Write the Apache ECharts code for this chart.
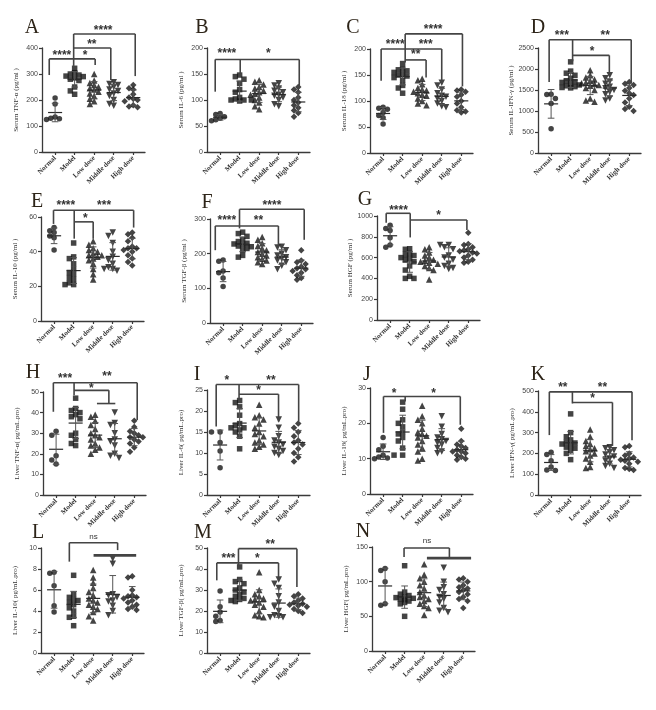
<!DOCTYPE html>
<html><head><meta charset="utf-8">
<script src="https://cdn.jsdelivr.net/npm/echarts@6/dist/echarts.min.js"></script>
<style>html,body{margin:0;padding:0;background:#fff}#c{width:656px;height:710px}</style>
</head><body><div id="c"></div>
<script>
// ---------------- data ----------------
const groups = ['Normal', 'Model', 'Low dose', 'Middle dose', 'High dose'];
const panelLetters = ['A','B','C','D','E','F','G','H','I','J','K','L','M','N'];
const yAxisNames = [
  'Serum TNF-α (pg/ml )', 'Serum IL-6 (pg/ml )', 'Serum IL-18 (pg/ml )', 'Serum IL-IFN-γ (pg/ml )',
  'Serum IL-10 (pg/ml )', 'Serum TGF-β (pg/ml )', 'Serum HGF (pg/ml )',
  'Liver TNF-α( pg/mL.pro)', 'Liver IL-6( pg/mL.pro)', 'Liver IL-18( pg/mL.pro)', 'Liver IFN-γ( pg/mL.pro)',
  'Liver IL-10( pg/mL.pro)', 'Liver TGF-β( pg/mL.pro)', 'Liver HGF( pg/mL.pro)'
];
const yMax  = [400, 200, 200, 2500, 60, 300, 1000, 50, 25, 30, 500, 10, 50, 150];
const yStep = [100, 50, 50, 500, 20, 100, 200, 10, 5, 10, 100, 2, 10, 50];

const serumTNFa = [
  [208, 185, 135, 130, 128, 125],
  [322, 305, 300, 296, 292, 290, 285, 280, 275, 250, 235, 222],
  [300, 275, 265, 258, 250, 245, 240, 232, 225, 215, 205, 195, 185],
  [268, 262, 258, 250, 240, 235, 225, 215, 200, 185, 178],
  [258, 245, 240, 222, 210, 205, 200, 195, 180, 175, 172]
];
const serumIL6 = [
  [74, 72, 68, 65, 62, 60],
  [148, 145, 140, 132, 120, 115, 105, 102, 100, 100, 100, 98],
  [138, 135, 130, 125, 122, 118, 115, 112, 110, 105, 100, 95, 88, 82],
  [132, 128, 122, 118, 115, 110, 108, 105, 100, 92, 88],
  [125, 120, 115, 105, 100, 95, 90, 85, 80, 75, 68]
];
const serumIL18 = [
  [88, 86, 84, 78, 72, 68, 56],
  [172, 162, 160, 158, 155, 152, 150, 148, 145, 140, 130, 125, 115],
  [143, 140, 132, 125, 122, 120, 118, 115, 112, 110, 105, 100, 95, 92],
  [135, 130, 122, 115, 110, 108, 105, 100, 95, 90, 88],
  [122, 120, 118, 112, 108, 100, 95, 88, 82, 80, 78]
];
const serumIFNg = [
  [1400, 1390, 1300, 1180, 580],
  [2170, 1950, 1900, 1850, 1780, 1720, 1700, 1680, 1650, 1620, 1600, 1580, 1560, 1550],
  [1970, 1850, 1800, 1750, 1720, 1680, 1660, 1640, 1620, 1600, 1550, 1500, 1300, 1250, 1220],
  [1850, 1780, 1700, 1650, 1580, 1540, 1500, 1450, 1400, 1300, 1250],
  [1690, 1650, 1620, 1550, 1480, 1420, 1380, 1300, 1200, 1100, 1050, 1000]
];
const serumIL10 = [
  [54, 52, 51, 49, 48, 41],
  [45, 37, 36, 33, 30, 28, 27, 25, 24, 22, 21, 21],
  [46, 44, 42, 41, 40, 39, 38, 38, 37, 36, 35, 33, 30, 27, 24],
  [51, 49, 45, 40, 37, 35, 33, 31, 30, 30, 29],
  [51, 50, 48, 46, 43, 42, 42, 41, 40, 38, 36, 34, 32]
];
const serumTGFb = [
  [182, 178, 150, 145, 130, 105],
  [262, 258, 250, 240, 235, 230, 228, 225, 222, 220, 215, 210, 195, 190],
  [248, 240, 230, 222, 215, 210, 205, 200, 195, 190, 185, 180, 175, 170],
  [220, 218, 210, 200, 195, 190, 185, 180, 175, 165, 155],
  [210, 180, 175, 170, 162, 158, 155, 150, 145, 138, 130, 125]
];
const serumHGF = [
  [910, 880, 860, 790, 720, 700],
  [685, 680, 640, 630, 620, 600, 590, 580, 560, 520, 480, 420, 400, 400],
  [700, 680, 650, 620, 600, 580, 570, 560, 550, 540, 520, 500, 480, 390],
  [720, 720, 700, 680, 620, 600, 580, 540, 520, 500, 490],
  [840, 730, 720, 700, 680, 670, 660, 650, 640, 620, 600, 580, 560, 550]
];
const liverTNFa = [
  [31, 29, 19, 17, 15],
  [47, 42, 41, 40, 39, 38, 37, 30, 29, 27, 25, 24],
  [39, 38, 36, 34, 32, 30, 29, 28, 27, 25, 24, 23, 22, 20],
  [40, 35, 34, 30, 27, 26, 24, 20, 19, 18],
  [36, 33, 31, 30, 29, 28, 28, 27, 26, 25, 23, 21]
];
const liverIL6 = [
  [15, 15, 12.5, 10.5, 6.5],
  [22.5, 22, 21, 19, 17, 16.5, 16, 16, 15.5, 15, 14, 11],
  [21.5, 19, 18.5, 18, 17, 16, 15, 14.5, 14, 13, 12.5, 12, 11.5, 11],
  [18, 16, 14, 13, 12.5, 12, 11.5, 11, 10.5, 10, 9.5],
  [17, 16, 15, 14, 13, 12.5, 12, 11, 10, 9, 8]
];
const liverIL18 = [
  [16, 13.5, 12.5, 11, 10.5, 10.2, 10],
  [26, 24, 21, 20, 19, 17.5, 17, 16, 15, 13, 11, 11],
  [25, 22, 21, 20, 18.5, 17.5, 17, 16.5, 16, 15, 14, 13, 12, 10, 9.5],
  [22, 19, 17, 16, 15.5, 15, 14.5, 14, 13, 12, 11.5],
  [18.5, 15, 14, 13.5, 13, 12.5, 12, 12, 11.5, 11, 10.5, 10, 9.7]
];
const liverIFNg = [
  [205, 195, 165, 135, 120, 118],
  [390, 300, 280, 265, 255, 250, 245, 240, 230, 225, 215, 200, 170],
  [315, 280, 260, 245, 235, 225, 220, 210, 200, 190, 175, 160, 135, 130],
  [230, 225, 215, 205, 195, 185, 175, 165, 150, 140, 130],
  [235, 230, 200, 190, 180, 175, 170, 165, 160, 150, 130, 125, 120]
];
const liverIL10 = [
  [7.7, 7.6, 6.4, 4.5, 3.9],
  [7.4, 5.6, 5.3, 5.1, 5.0, 4.8, 4.6, 4.3, 4.0, 3.5, 3.4, 2.6],
  [7.9, 7.2, 6.7, 6.2, 5.8, 5.5, 5.2, 5.0, 4.8, 4.6, 4.4, 4.2, 3.9, 3.5, 3.1],
  [9.0, 8.5, 5.6, 5.5, 5.3, 5.0, 4.9, 4.5, 4.0, 3.6],
  [7.3, 7.2, 6.0, 5.5, 5.4, 5.3, 5.2, 5.0, 4.8, 4.6, 4.4, 4.2, 4.1]
];
const liverTGFb = [
  [29.5, 22, 19.5, 17.5, 15.5, 15],
  [41, 35, 34, 33, 31, 30, 29, 28, 27, 26, 25.5, 25, 24.5],
  [38.5, 30, 28, 27, 26, 25.5, 25, 24, 23, 22, 20, 18, 17.5, 17],
  [35, 33, 31, 27, 24, 22, 20, 18, 17.5, 17, 17],
  [28, 27, 26, 25, 24, 23.5, 23, 22.5, 22, 21, 20, 19]
];
const liverHGF = [
  [119, 116, 100, 68, 66],
  [123, 85, 82, 80, 78, 77, 76, 75, 74, 72, 70, 68, 50],
  [125, 110, 105, 100, 95, 90, 85, 80, 78, 75, 72, 68, 65, 62, 52],
  [120, 100, 92, 88, 82, 78, 75, 70, 62, 58, 56],
  [105, 103, 100, 95, 92, 90, 88, 85, 82, 78, 75, 72, 62]
];
const panelData = [serumTNFa, serumIL6, serumIL18, serumIFNg, serumIL10, serumTGFb, serumHGF,
  liverTNFa, liverIL6, liverIL18, liverIFNg, liverIL10, liverTGFb, liverHGF];

// significance annotations, in data units: segments [x1,y1,x2,y2,(width)], labels [text,x,y]
const bracketSegs = [
  [[-0.3,296,-0.3,358],[-0.3,358,2.05,358],[2.05,358,2.05,335],[0.95,331,0.95,454],[0.95,400,2.85,400],[2.85,400,2.85,277],[0.95,454,4.1,454],[4.1,454,4.1,292]],
  [[-0.25,116,-0.25,178],[-0.25,178,4.05,178],[4.05,178,4.05,127],[1.03,178,1.03,150]],
  [[-0.1,139,-0.1,200],[-0.1,200,3.0,200],[3.0,200,3.0,139],[1.13,179,2.2,179],[2.2,179,2.2,145],[1.13,174,1.13,229],[1.13,229,4.06,229],[4.06,229,4.06,128]],
  [[-0.1,1690,-0.1,2698],[-0.1,2698,4.1,2698],[4.1,2698,4.1,1650],[1.1,2183,1.1,2698],[1.1,2325,2.98,2325],[2.98,2325,2.98,1873]],
  [[-0.03,56,-0.03,63.9],[-0.03,63.9,4.07,63.9],[4.07,63.9,4.07,53.9],[1.03,47.5,1.03,63.9],[1.03,57.2,2.0,57.2],[2.0,57.2,2.0,47.5]],
  [[-0.4,210,-0.4,280],[-0.4,280,2.83,280],[2.83,280,2.83,220],[0.84,273,0.84,328],[0.84,328,4.15,328],[4.15,328,4.15,240]],
  [[-0.2,936,-0.2,1026],[-0.2,1026,1.03,1026],[1.03,1026,1.03,794],[1.03,961,3.93,961],[3.93,961,3.93,865]],
  [[-0.14,40.4,-0.14,54.5],[-0.14,54.5,4.15,54.5],[4.15,54.5,4.15,36.4],[0.92,48.4,0.92,54.5],[0.92,50.8,2.7,50.8],[2.7,50.8,2.7,44.4],[2.09,44.4,3.03,44.4]],
  [[-0.2,16.3,-0.2,26.3],[-0.2,26.3,4.02,26.3],[4.02,26.3,4.02,17.6],[0.97,22.6,0.97,26.3],[0.97,24,2.99,24],[2.99,24,2.99,17.5]],
  [[0.02,17.3,0.02,27.6],[0.02,27.6,3.95,27.6],[3.95,27.6,3.95,19.6],[1.13,26.2,1.13,27.6]],
  [[-0.09,288,-0.09,496],[-0.09,496,4.14,496],[4.14,496,4.14,263],[1.09,440,1.09,496],[1.09,445,3.14,445],[3.14,445,3.14,236]],
  [[0.78,8.7,0.78,10.5],[0.78,10.5,3.25,10.5],[3.25,10.5,3.25,9.8],[2.02,9.3,4.2,9.3,2.6]],
  [[-0.17,34.6,-0.17,42.9],[-0.17,42.9,2.99,42.9],[2.99,42.9,2.99,36.2],[0.94,41.5,0.94,49.7],[0.94,49.7,3.93,49.7],[3.93,49.7,3.93,31.4]],
  [[0.97,135.6,0.97,148.6],[0.97,148.6,3.29,148.6],[3.29,148.6,3.29,134],[2.14,134,4.4,134,2.6]]
];
const bracketLabels = [
  [['****',0.35,381],['*',1.54,381],['**',1.88,424],['****',2.46,476]],
  [['****',0.35,193],['*',2.47,193]],
  [['****',0.62,214],['***',2.18,214],['**',1.67,193],['****',2.56,242]],
  [['***',0.55,2850],['**',2.77,2850],['*',2.1,2469]],
  [['****',0.6,67.7],['***',2.56,67.7],['*',1.6,60.4]],
  [['****',0.19,302],['**',1.81,302],['****',2.5,346]],
  [['****',0.43,1074],['*',2.48,1030]],
  [['***',0.46,57.7],['**',2.6,58.8],['*',1.8,52.8]],
  [['*',0.34,27.9],['**',2.6,27.9],['*',1.97,25.4]],
  [['*',0.56,29.1],['*',2.58,29.1]],
  [['**',0.6,528],['**',2.63,528],['*',2.12,477]],
  [['ns',2.02,11.06]],
  [['***',0.43,46],['*',1.91,46],['**',2.56,52.9]],
  [['ns',2.14,159.6]]
];

// ---------------- layout ----------------
const PW = 103;
const layout = [
  {l:42,t:48,h:104},{l:207,t:48,h:104},{l:370,t:49,h:104},{l:538,t:48,h:105},
  {l:41,t:217,h:104},{l:210,t:219,h:104},{l:377,t:216,h:104},
  {l:43,t:392,h:103},{l:207,t:390,h:105},{l:370,t:388,h:106},{l:538,t:391,h:104},
  {l:41,t:548,h:105},{l:207,t:548,h:105},{l:372,t:547,h:104}
];
const titlePos = [[32,28],[202,28],[353,28],[538,28],[37,202],[207,203],[365,200],
  [33,373],[197,375],[367,375],[538,375],[38,533],[203,533],[363,532]];
const XMIN = -0.67, XMAX = 4.6;
const symbols = [
  {symbol:'circle', size:5.5, rot:0},
  {symbol:'rect', size:5.5, rot:0},
  {symbol:'triangle', size:6.5, rot:0},
  {symbol:'triangle', size:6.5, rot:180},
  {symbol:'diamond', size:6.5, rot:0}
];
const INK = '#151515', LINE = '#3a3a3a';

function swarm(vals, pxPerUnitY, pxPerUnitX) {
  const order = vals.map((v, i) => i).sort((a, b) => vals[b] - vals[a]);
  const cands = [0, -0.22, 0.22, -0.44, 0.44, -0.6, 0.6];
  const placed = [], off = new Array(vals.length).fill(0);
  for (const i of order) {
    const y = vals[i] * pxPerUnitY;
    for (const c of cands) {
      const ok = placed.every(p => Math.hypot((p.x - c) * pxPerUnitX, p.y - y) >= 4.3);
      if (ok) { off[i] = c; placed.push({x: c, y}); break; }
    }
  }
  return off;
}
function meanSd(a) {
  const m = a.reduce((s, v) => s + v, 0) / a.length;
  const sd = Math.sqrt(a.reduce((s, v) => s + (v - m) * (v - m), 0) / (a.length - 1));
  return [m, sd];
}

const grids = [], xAxes = [], yAxes = [], series = [], graphics = [];
panelData.forEach((pd, p) => {
  const L = layout[p];
  grids.push({left: L.l, top: L.t, width: PW, height: L.h, containLabel: false});
  xAxes.push({
    gridIndex: p, type: 'value', min: XMIN, max: XMAX,
    axisLine: {show: true, onZero: false, lineStyle: {color: LINE, width: 1.3}},
    axisTick: {show: true, customValues: [0,1,2,3,4], length: 3, lineStyle: {color: LINE, width: 1.2}},
    axisLabel: {customValues: [0,1,2,3,4], formatter: v => groups[Math.round(v)], rotate: 45,
      fontSize: 7, fontFamily: 'Liberation Serif', fontWeight: 'bold', color: '#333', margin: 5},
    splitLine: {show: false}
  });
  yAxes.push({
    gridIndex: p, type: 'value', min: 0, max: yMax[p], interval: yStep[p],
    axisLine: {show: true, onZero: false, lineStyle: {color: LINE, width: 1.3}},
    axisTick: {show: true, length: 3, lineStyle: {color: LINE, width: 1.2}},
    axisLabel: {fontSize: 7, fontFamily: 'Liberation Sans', color: '#444', margin: 4,
      formatter: v => String(v)},
    splitLine: {show: false},
    name: yAxisNames[p], nameLocation: 'middle', nameGap: 22,
    nameTextStyle: {fontSize: 7, fontFamily: 'Liberation Serif', color: '#333'}
  });
  const pxY = L.h / yMax[p], pxX = PW / (XMAX - XMIN);
  pd.forEach((vals, g) => {
    const off = swarm(vals, pxY, pxX);
    series.push({
      type: 'scatter', xAxisIndex: p, yAxisIndex: p, silent: true, z: 2,
      symbol: symbols[g].symbol, symbolSize: symbols[g].size, symbolRotate: symbols[g].rot,
      itemStyle: {color: INK},
      data: vals.map((v, k) => [g + off[k], v])
    });
  });
  // mean ± SD
  series.push({
    type: 'custom', xAxisIndex: p, yAxisIndex: p, silent: true, z: 3,
    data: pd.map((vals, g) => [g].concat(meanSd(vals))),
    renderItem: (params, api) => {
      const x = api.value(0), m = api.value(1), s = api.value(2);
      const pm = api.coord([x, m]), pt = api.coord([x, m + s]), pb = api.coord([x, Math.max(m - s, 0)]);
      const w1 = api.size([0.36, 0])[0], w2 = api.size([0.17, 0])[0];
      const st = {stroke: '#2a2a2a', lineWidth: 1.2};
      const st2 = {stroke: '#555', lineWidth: 1};
      return {type: 'group', children: [
        {type: 'line', shape: {x1: pm[0] - w1, y1: pm[1], x2: pm[0] + w1, y2: pm[1]}, style: st},
        {type: 'line', shape: {x1: pt[0], y1: pt[1], x2: pb[0], y2: pb[1]}, style: st2},
        {type: 'line', shape: {x1: pt[0] - w2, y1: pt[1], x2: pt[0] + w2, y2: pt[1]}, style: st2},
        {type: 'line', shape: {x1: pb[0] - w2, y1: pb[1], x2: pb[0] + w2, y2: pb[1]}, style: st2}
      ]};
    }
  });
  // brackets
  const segs = bracketSegs[p];
  series.push({
    type: 'custom', xAxisIndex: p, yAxisIndex: p, silent: true, z: 4, clip: false,
    data: segs.map(s => [s[0], s[1], s[2], s[3]]),
    encode: {x: [0, 2], y: [1, 3]},
    renderItem: (params, api) => {
      const s = segs[params.dataIndex];
      const a = api.coord([s[0], s[1]]), b = api.coord([s[2], s[3]]);
      return {type: 'line', shape: {x1: a[0], y1: a[1], x2: b[0], y2: b[1]},
        style: {stroke: '#444', lineWidth: s[4] || 1.6}};
    }
  });
  const labs = bracketLabels[p];
  series.push({
    type: 'custom', xAxisIndex: p, yAxisIndex: p, silent: true, z: 5, clip: false,
    data: labs.map(t => [t[1], t[2]]),
    renderItem: (params, api) => {
      const t = labs[params.dataIndex];
      const c = api.coord([t[1], t[2]]);
      const star = t[0] !== 'ns';
      return {type: 'text', x: c[0], y: c[1] + (star ? 2.5 : 0),
        style: {text: t[0], align: 'center', verticalAlign: 'middle',
          font: star ? 'bold 12px "Liberation Sans"' : '8px "Liberation Sans"', fill: '#333'}};
    }
  });
  graphics.push({type: 'text', x: titlePos[p][0], y: titlePos[p][1],
    style: {text: panelLetters[p], font: '20px "Liberation Serif"', fill: '#2d2418',
      align: 'center', verticalAlign: 'middle'}});
});

const chart = echarts.init(document.getElementById('c'), null, {renderer: 'canvas'});
chart.setOption({
  animation: false, backgroundColor: '#fff',
  grid: grids, xAxis: xAxes, yAxis: yAxes, series: series, graphic: graphics
});
</script></body></html>
